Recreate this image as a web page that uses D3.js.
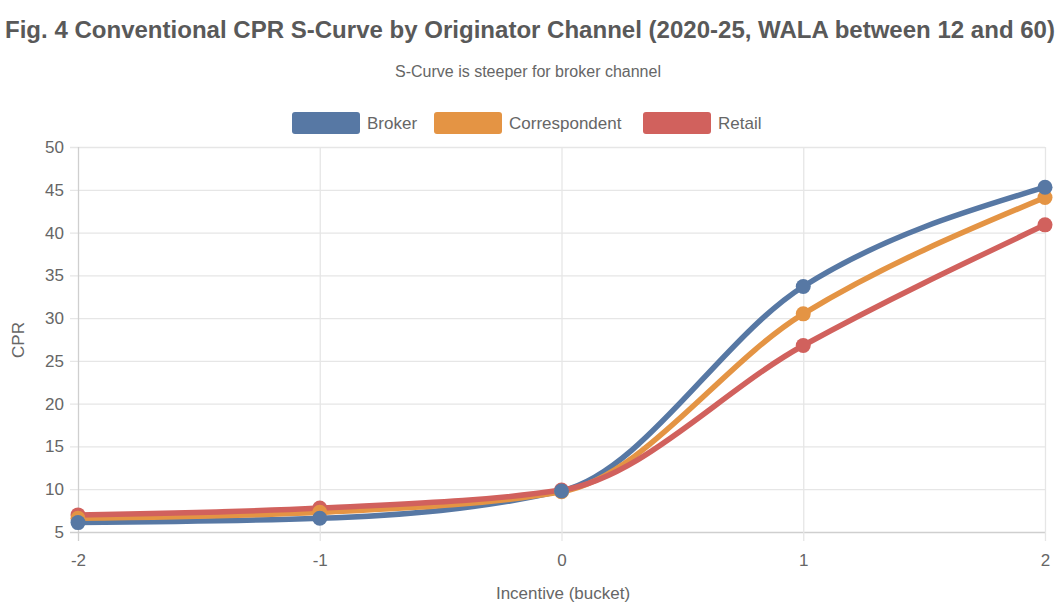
<!DOCTYPE html>
<html><head><meta charset="utf-8">
<script src="https://cdn.jsdelivr.net/npm/d3@7"></script>
<style>body{margin:0;background:#fff;} svg{display:block;font-family:"Liberation Sans",Arial,sans-serif;}</style>
</head><body><svg id="c" width="1056" height="608"></svg>
<script>
const incentives = [-2, -1, 0, 1, 2];
const seriesNames = ["Broker", "Correspondent", "Retail"];
const broker = [6.1, 6.6, 9.8, 33.7, 45.3];
const correspondent = [6.6, 7.3, 9.7, 30.5, 44.1];
const retail = [7.0, 7.8, 9.9, 26.8, 40.9];
const yTicks = [5, 10, 15, 20, 25, 30, 35, 40, 45, 50];
const colors = ["#5778a4", "#e49444", "#d1615d"];
const seriesValues = [broker, correspondent, retail];

const svg = d3.select("#c");
const x = d3.scaleLinear().domain([-2, 2]).range([78, 1045]);
const y = d3.scaleLinear().domain([5, 50]).range([532, 147]);

// grid
const gy = svg.append("g").attr("transform", "translate(78,0)")
  .call(d3.axisLeft(y).tickValues(yTicks).tickSize(-967).tickPadding(14).tickSizeOuter(0));
gy.select(".domain").remove();
gy.selectAll(".tick line").attr("stroke", d => d === 5 ? "#cfcfcf" : "#e6e6e6").attr("stroke-width", 1.3).attr("x1", -8);
gy.selectAll(".tick text").attr("fill", "#666").style("font-size", "17px");

const gx = svg.append("g").attr("transform", "translate(0,541)")
  .call(d3.axisBottom(x).tickValues(incentives).tickSize(-394).tickPadding(13).tickFormat(d => String(d)));
gx.select(".domain").remove();
gx.selectAll(".tick line").attr("stroke", d => d === -2 ? "#cfcfcf" : "#e6e6e6").attr("stroke-width", 1.3);
gx.selectAll(".tick text").attr("fill", "#666").style("font-size", "17px");

// lines
const line = d3.line().x((d, i) => x(incentives[i])).y(d => y(d)).curve(d3.curveMonotoneX);
seriesValues.forEach((vals, s) => {
  svg.append("path").datum(vals).attr("d", line).attr("fill", "none")
    .attr("stroke", colors[s]).attr("stroke-width", 5.5).attr("stroke-linejoin", "round");
});
[2, 1, 0].forEach(s => {
  svg.append("g").selectAll("circle").data(seriesValues[s]).join("circle")
    .attr("cx", (d, i) => x(incentives[i])).attr("cy", d => y(d)).attr("r", 7.5)
    .attr("fill", colors[s]);
});

// titles
svg.append("text").attr("x", 530).attr("y", 38).attr("text-anchor", "middle")
  .attr("font-weight", "bold").attr("fill", "#595959").style("font-size", "23px")
  .attr("textLength", 1050).attr("lengthAdjust", "spacingAndGlyphs")
  .text("Fig. 4 Conventional CPR S-Curve by Originator Channel (2020-25, WALA between 12 and 60)");
svg.append("text").attr("x", 528).attr("y", 77).attr("text-anchor", "middle")
  .attr("fill", "#666").style("font-size", "16px").text("S-Curve is steeper for broker channel");
svg.append("text").attr("x", 563).attr("y", 599).attr("text-anchor", "middle")
  .attr("fill", "#666").style("font-size", "17px").text("Incentive (bucket)");
svg.append("text").attr("transform", "translate(24,340) rotate(-90)").attr("text-anchor", "middle")
  .attr("fill", "#666").style("font-size", "17px").text("CPR");

// legend
const legX = [292, 434, 643];
seriesNames.forEach((n, s) => {
  svg.append("rect").attr("x", legX[s]).attr("y", 112).attr("width", 68).attr("height", 22)
    .attr("rx", 3).attr("fill", colors[s]);
  svg.append("text").attr("x", legX[s] + 75).attr("y", 129).attr("fill", "#666")
    .style("font-size", "17px").text(n);
});
</script></body></html>
